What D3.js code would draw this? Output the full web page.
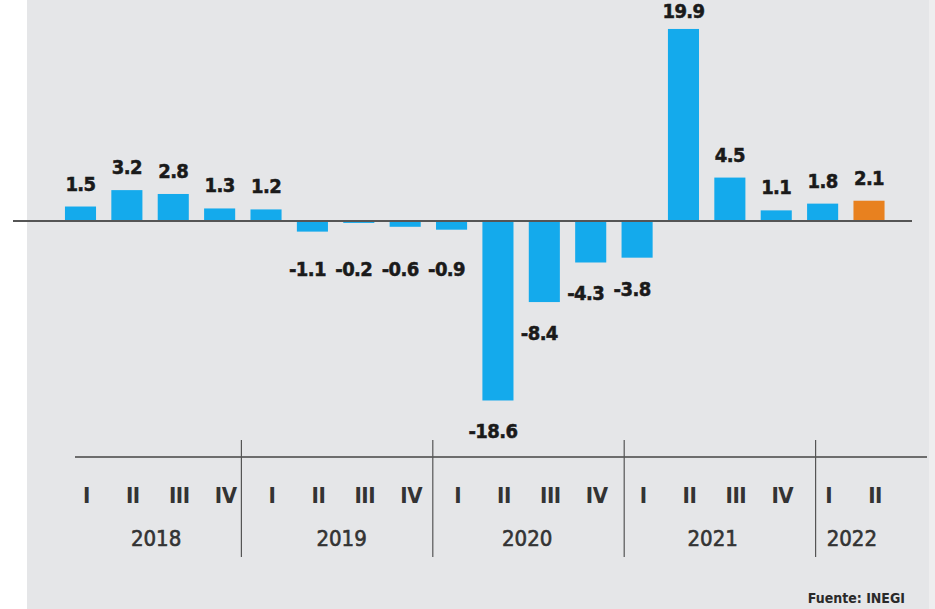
<!DOCTYPE html>
<html>
<head>
<meta charset="utf-8">
<script src="https://cdn.jsdelivr.net/npm/d3@7"></script>
<style>
  html, body { margin: 0; padding: 0; background: #ffffff; }
  svg { display: block; }
</style>
</head>
<body>
<svg id="chart" width="935" height="609"></svg>
<script>
// ---- data ----
const quarters = ["I","II","III","IV","I","II","III","IV","I","II","III","IV","I","II","III","IV","I","II"];
const quarterYears = ["2018","2018","2018","2018","2019","2019","2019","2019","2020","2020","2020","2020","2021","2021","2021","2021","2022","2022"];
const years = ["2018","2019","2020","2021","2022"];
const values = [1.5, 3.2, 2.8, 1.3, 1.2, -1.1, -0.2, -0.6, -0.9, -18.6, -8.4, -4.3, -3.8, 19.9, 4.5, 1.1, 1.8, 2.1];
const highlighted = [17];
const source = "Fuente: INEGI";

// ---- setup ----
const svg = d3.select("#chart");
const W = 935, H = 609;
const ids = d3.range(values.length);

// background panel
svg.append("rect").attr("x", 27).attr("y", 0).attr("width", 903).attr("height", H).attr("fill", "#e5e6e8");
svg.append("rect").attr("x", 929).attr("y", 0).attr("width", 6).attr("height", H).attr("fill", "#eeeeef");

// bar scale
const x = d3.scaleBand().domain(ids).range([57.3, 892.2]).paddingInner(0.33).paddingOuter(0.165);
// category-axis scale (group separators)
const xa = d3.scaleBand().domain(ids).range([50, 50 + 18 * 47.85]);
const y = d3.scaleLinear().domain([-20, 20]).range([221 + 193, 221 - 193]);
const y0 = y(0);

const blue = "#14aaec", orange = "#e8811f";
const condFont = "'DejaVu Sans Condensed', 'DejaVu Sans', sans-serif";

// bars
svg.append("g").selectAll("rect").data(ids).join("rect")
  .attr("x", i => x(i))
  .attr("width", x.bandwidth())
  .attr("y", i => Math.min(y(values[i]), y0))
  .attr("height", i => Math.abs(y(values[i]) - y0))
  .attr("fill", i => highlighted.includes(i) ? orange : blue);

// zero line
svg.append("line").attr("x1", 13).attr("x2", 912).attr("y1", y0).attr("y2", y0)
  .attr("stroke", "#555").attr("stroke-width", 2);

// value labels
const fmt = v => (v < 0 ? "-" : "") + d3.format(".1f")(Math.abs(v));
svg.append("g").selectAll("text").data(ids).join("text")
  .attr("x", i => x(i) + x.bandwidth() / 2 + (values[i] < 0 ? -5 : 0))
  .attr("y", i => values[i] >= 0 ? Math.max(y(values[i]) - 16, 18) : Math.max(y(values[i]) + 38, y0 + 55))
  .attr("text-anchor", "middle")
  .attr("font-family", condFont)
  .attr("font-stretch", "condensed")
  .attr("font-weight", "bold")
  .attr("font-size", 20)
  .attr("letter-spacing", -0.6)
  .attr("fill", "#1a1a1a")
  .attr("stroke", "#1a1a1a")
  .attr("stroke-width", 0.5)
  .text(i => fmt(values[i]));

// category axis
const axisY = 457;
const labelShift = 6;
svg.append("line").attr("x1", 75).attr("x2", 927).attr("y1", axisY).attr("y2", axisY)
  .attr("stroke", "#444").attr("stroke-width", 1.6);

const qx = i => x(i) + x.bandwidth() / 2 + labelShift;
svg.append("g").selectAll("text").data(ids).join("text")
  .attr("x", qx)
  .attr("y", 503)
  .attr("text-anchor", "middle")
  .attr("font-family", condFont)
  .attr("font-stretch", "condensed")
  .attr("font-weight", "bold")
  .attr("font-size", 22)
  .attr("letter-spacing", -0.5)
  .attr("fill", "#333")
  .text(i => quarters[i]);

// year labels + separators
const yearIdx = years.map(yr => ids.filter(i => quarterYears[i] === yr));
svg.append("g").selectAll("text").data(years).join("text")
  .attr("x", (yr, k) => d3.mean(yearIdx[k], qx))
  .attr("y", 546)
  .attr("text-anchor", "middle")
  .attr("font-family", condFont)
  .attr("font-stretch", "condensed")
  .attr("font-size", 22)
  .attr("fill", "#333")
  .attr("stroke", "#333")
  .attr("stroke-width", 0.6)
  .text(yr => yr);

const seps = years.slice(1).map((yr, k) => xa(yearIdx[k + 1][0]));
svg.append("g").selectAll("line").data(seps).join("line")
  .attr("x1", d => d).attr("x2", d => d)
  .attr("y1", 440).attr("y2", 557)
  .attr("stroke", "#555").attr("stroke-width", 1.2);

// source
svg.append("text")
  .attr("x", 905).attr("y", 603)
  .attr("text-anchor", "end")
  .attr("font-family", condFont)
  .attr("font-stretch", "condensed")
  .attr("font-weight", "bold")
  .attr("font-size", 14)
  .attr("fill", "#2a2a2a")
  .text(source);
</script>
</body>
</html>
